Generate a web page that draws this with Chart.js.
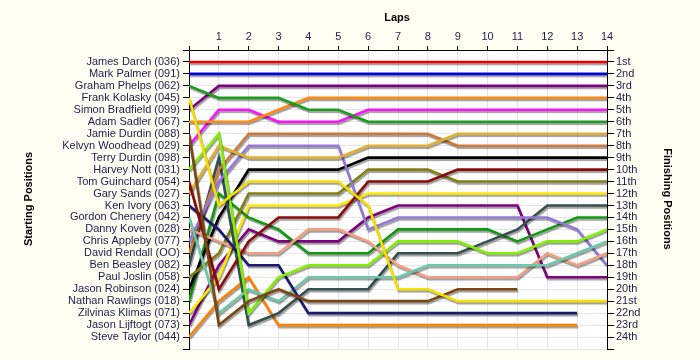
<!DOCTYPE html>
<html>
<head>
<meta charset="utf-8">
<script src="https://cdn.jsdelivr.net/npm/chart.js@4/dist/chart.umd.min.js"></script>
<style>
  html, body { margin: 0; padding: 0; background: #fffef3; }
  #box { width: 700px; height: 360px; }
</style>
</head>
<body>
<div id="box"><canvas id="lapChart" width="700" height="360"></canvas></div>
<script>
// Laps along the top axis.
const laps = [0, 1, 2, 3, 4, 5, 6, 7, 8, 9, 10, 11, 12, 13, 14];

// Drivers in starting order (row 1 at the top).
const starters = [
  'James Darch (036)', 'Mark Palmer (091)', 'Graham Phelps (062)', 'Frank Kolasky (045)',
  'Simon Bradfield (099)', 'Adam Sadler (067)', 'Jamie Durdin (088)', 'Kelvyn Woodhead (029)',
  'Terry Durdin (098)', 'Harvey Nott (031)', 'Tom Guinchard (054)', 'Gary Sands (027)',
  'Ken Ivory (063)', 'Gordon Chenery (042)', 'Danny Koven (028)', 'Chris Appleby (077)',
  'David Rendall (OO)', 'Ben Beasley (082)', 'Paul Joslin (058)', 'Jason Robinson (024)',
  'Nathan Rawlings (018)', 'Zilvinas Klimas (071)', 'Jason Lijftogt (073)', 'Steve Taylor (044)'
];

// Finishing positions on the right axis.
const finishers = [
  '1st', '2nd', '3rd', '4th', '5th', '6th', '7th', '8th', '9th', '10th', '11th', '12th',
  '13th', '14th', '15th', '16th', '17th', '18th', '19th', '20th', '21st', '22nd', '23rd', '24th'
];

// Position of each driver after every lap (null = retired).
const jamesDarch     = [1, 1, 1, 1, 1, 1, 1, 1, 1, 1, 1, 1, 1, 1, 1];
const markPalmer     = [2, 2, 2, 2, 2, 2, 2, 2, 2, 2, 2, 2, 2, 2, 2];
const grahamPhelps   = [3, 4, 4, 4, 5, 5, 6, 6, 6, 6, 6, 6, 6, 6, 6];
const frankKolasky   = [4, 13, 11, 11, 11, 11, 13, 20, 20, 21, 21, 21, 21, 21, 21];
const simonBradfield = [5, 3, 3, 3, 3, 3, 3, 3, 3, 3, 3, 3, 3, 3, 3];
const adamSadler     = [6, 6, 6, 5, 4, 4, 4, 4, 4, 4, 4, 4, 4, 4, 4];
const jamieDurdin    = [7, 23, 21, 20, 21, 21, 21, 21, 21, 20, 20, 20, null, null, null];
const kelvynWoodhead = [8, 5, 5, 6, 6, 6, 5, 5, 5, 5, 5, 5, 5, 5, 5];
const terryDurdin    = [9, null, null, null, null, null, null, null, null, null, null, null, null, null, null];
const harveyNott     = [10, 7, 22, 19, 18, 18, 18, 16, 16, 16, 17, 17, 16, 16, 15];
const tomGuinchard   = [11, 20, 16, 14, 14, 14, 11, 11, 11, 10, 10, 10, 10, 10, 10];
const garySands      = [12, 8, 9, 9, 9, 9, 8, 8, 8, 7, 7, 7, 7, 7, 7];
const kenIvory       = [13, 15, 18, 18, 22, 22, 22, 22, 22, 22, 22, 22, 22, 22, null];
const gordonChenery  = [14, 22, 20, 21, 19, 19, 19, 19, 18, 18, 18, 18, 18, 17, 16];
const dannyKoven     = [15, 16, 17, 17, 15, 15, 16, 18, 19, 19, 19, 19, 17, 18, 17];
const chrisAppleby   = [16, 11, 8, 8, 8, 8, 15, 14, 14, 14, 14, 14, 14, 15, 18];
const davidRendall   = [17, 10, 7, 7, 7, 7, 7, 7, 7, 8, 8, 8, 8, 8, 8];
const benBeasley     = [18, 9, 23, 22, 20, 20, 20, 17, 17, 17, 16, 15, 13, 13, 13];
const paulJoslin     = [19, 17, 12, 12, 12, 12, 10, 10, 10, 11, 11, 11, 11, 11, 11];
const jasonRobinson  = [20, 14, 10, 10, 10, 10, 9, 9, 9, 9, 9, 9, 9, 9, 9];
const nathanRawlings = [21, 12, 14, 15, 17, 17, 17, 15, 15, 15, 15, 16, 15, 14, 14];
const zilvinasKlimas = [22, 19, 13, 13, 13, 13, 12, 12, 12, 12, 12, 12, 12, 12, 12];
const jasonLijftogt  = [23, 18, 15, 16, 16, 16, 14, 13, 13, 13, 13, 13, 19, 19, 19];
const steveTaylor    = [24, 21, 19, 23, 23, 23, 23, 23, 23, 23, 23, 23, 23, 23, null];

const series = [
  [jamesDarch, '#ee0000'], [markPalmer, '#0000e0'], [grahamPhelps, '#1b9e1b'],
  [frankKolasky, '#f5e000'], [simonBradfield, '#800080'], [adamSadler, '#ff8a10'],
  [jamieDurdin, '#7b4612'], [kelvynWoodhead, '#ff10ff'], [terryDurdin, '#808080'],
  [harveyNott, '#80f000'], [tomGuinchard, '#8b0a0a'], [garySands, '#e0b030'],
  [kenIvory, '#1a1a6e'], [gordonChenery, '#6cc8aa'], [dannyKoven, '#f4a080'],
  [chrisAppleby, '#9478d8'], [davidRendall, '#d07838'], [benBeasley, '#35504c'],
  [paulJoslin, '#808010'], [jasonRobinson, '#000000'], [nathanRawlings, '#109a10'],
  [zilvinasKlimas, '#ffe800'], [jasonLijftogt, '#800080'], [steveTaylor, '#ff8000']
];

let datasets = series.map(function (s, i) {
  return {
    label: starters[i],
    data: laps.map(function (lap, j) { return { x: lap, y: s[0][j] }; }),
    borderColor: s[1],
    borderWidth: 2.6,
    pointRadius: 0,
    tension: 0,
    fill: false,
    spanGaps: false
  };
});

// Grey drop shadow under every line, like the original.
const shadowPlugin = {
  id: 'shadow',
  beforeDatasetDraw: function (chart) {
    let ctx = chart.ctx;
    ctx.save();
    ctx.shadowColor = 'rgba(0,0,0,0.38)';
    ctx.shadowOffsetX = 1;
    ctx.shadowOffsetY = 2;
    ctx.shadowBlur = 1;
  },
  afterDatasetDraw: function (chart) {
    chart.ctx.restore();
  }
};

// Plot background and the three axis titles.
const framePlugin = {
  id: 'frame',
  beforeDraw: function (chart) {
    let ctx = chart.ctx, a = chart.chartArea;
    ctx.save();
    ctx.fillStyle = '#fffef3';
    ctx.fillRect(0, 0, chart.width, chart.height);
    ctx.fillStyle = '#ffffff';
    ctx.fillRect(a.left, a.top, a.right - a.left, a.bottom - a.top);
    ctx.restore();
  },
  afterDraw: function (chart) {
    let ctx = chart.ctx;
    ctx.save();
    ctx.fillStyle = '#000000';
    ctx.font = 'bold 11px "Liberation Sans", Arial, sans-serif';
    ctx.textAlign = 'center';
    ctx.textBaseline = 'middle';
    ctx.fillText('Laps', 397, 18);
    ctx.translate(29, 199);
    ctx.rotate(-Math.PI / 2);
    ctx.fillText('Starting Positions', 0, 0);
    ctx.restore();
    ctx.save();
    ctx.fillStyle = '#000000';
    ctx.font = 'bold 11px "Liberation Sans", Arial, sans-serif';
    ctx.textAlign = 'center';
    ctx.textBaseline = 'middle';
    ctx.translate(667, 199);
    ctx.rotate(Math.PI / 2);
    ctx.fillText('Finishing Positions', 0, 0);
    ctx.restore();
  }
};

const tickFont = { family: '"Liberation Sans", Arial, sans-serif', size: 11 };
const tickColour = '#1c1c4c';

new Chart(document.getElementById('lapChart'), {
  type: 'line',
  data: { datasets: datasets },
  plugins: [shadowPlugin, framePlugin],
  options: {
    responsive: false,
    animation: false,
    maintainAspectRatio: false,
    layout: { padding: { top: 0, bottom: 11, left: 0, right: 0 } },
    plugins: { legend: { display: false }, tooltip: { enabled: false } },
    scales: {
      x: {
        type: 'linear', position: 'top', min: 0, max: 14,
        afterFit: function (s) { s.height = 50; },
        ticks: {
          stepSize: 1, autoSkip: false, maxRotation: 0, padding: 2,
          color: tickColour, font: tickFont,
          callback: function (v) { return v === 0 ? '' : v; }
        },
        grid: { color: '#e6e6e6', tickColor: '#000000', tickLength: 4 },
        border: { color: '#000000', width: 1 }
      },
      y: {
        type: 'linear', position: 'left', min: 0, max: 25, reverse: true,
        afterFit: function (s) { s.width = 189; },
        ticks: {
          stepSize: 1, autoSkip: false, padding: 3,
          color: tickColour, font: tickFont,
          callback: function (v) { return starters[v - 1] || ''; }
        },
        grid: { color: '#e6e6e6', tickColor: '#000000', tickLength: 6 },
        border: { color: '#000000', width: 1 }
      },
      y2: {
        type: 'linear', position: 'right', min: 0, max: 25, reverse: true,
        afterFit: function (s) { s.width = 93; },
        ticks: {
          stepSize: 1, autoSkip: false, padding: 2,
          color: tickColour, font: tickFont,
          callback: function (v) { return finishers[v - 1] || ''; }
        },
        grid: { drawOnChartArea: false, tickColor: '#000000', tickLength: 7 },
        border: { color: '#000000', width: 1 }
      }
    }
  }
});
</script>
</body>
</html>
